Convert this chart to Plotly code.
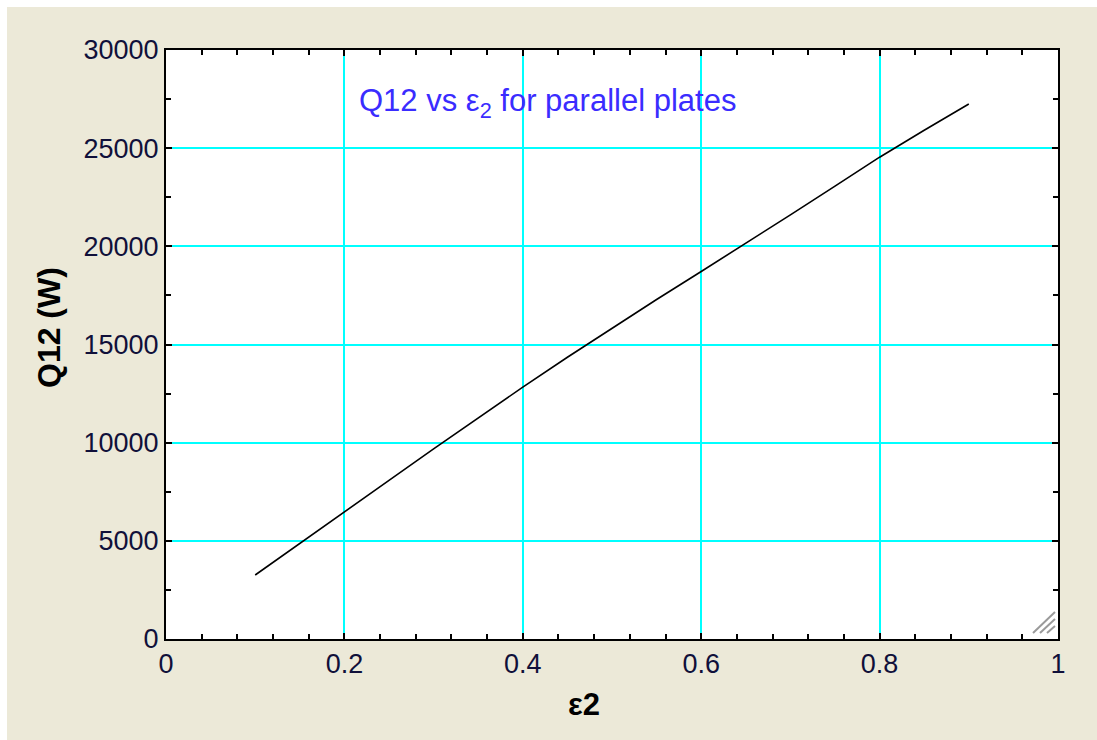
import plotly.graph_objects as go

# Net radiative exchange between two parallel plates as emissivity of plate 2 varies
eps2 = [0.10, 0.15, 0.20, 0.25, 0.30, 0.35, 0.40, 0.45, 0.50,
        0.55, 0.60, 0.65, 0.70, 0.75, 0.80, 0.85, 0.90]
q12 = [3260, 4880, 6470, 8080, 9680, 11270, 12830, 14350, 15840,
       17290, 18720, 20150, 21600, 23070, 24540, 25910, 27250]

x_ticks = [0, 0.2, 0.4, 0.6, 0.8, 1]
x_tick_text = ["0", "0.2", "0.4", "0.6", "0.8", "1"]
y_ticks = [0, 5000, 10000, 15000, 20000, 25000, 30000]
y_tick_text = ["0", "5000", "10000", "15000", "20000", "25000", "30000"]

W, H = 1097, 740
L, R, T, B = 166, 1058, 50, 639
BG = "#ECE9D8"
FONT = "Liberation Sans, Arial, sans-serif"


def px(x):
    return (x - L) / (R - L)


def py(y):
    return (B - y) / (B - T)


fig = go.Figure()
fig.add_trace(go.Scatter(x=eps2, y=q12, mode="lines",
                         line=dict(color="black", width=1.6),
                         showlegend=False, hoverinfo="x+y"))

tick_font = dict(family=FONT, size=27, color="#10103a")
axis_common = dict(
    showline=True, linecolor="black", linewidth=2, mirror="ticks",
    ticks="inside", ticklen=6, tickwidth=2, tickcolor="black",
    showgrid=True, gridcolor="#00FFFF", gridwidth=2,
    zeroline=False, tickfont=tick_font,
)

fig.update_xaxes(range=[0, 1], tickvals=x_ticks, ticktext=x_tick_text,
                 minor=dict(dtick=0.04, tick0=0, ticks="inside", ticklen=5,
                            tickwidth=2, tickcolor="black", showgrid=False),
                 **axis_common)
fig.update_yaxes(range=[0, 30000], tickvals=y_ticks, ticktext=y_tick_text,
                 minor=dict(dtick=2500, tick0=0, ticks="inside", ticklen=5,
                            tickwidth=2, tickcolor="black", showgrid=False),
                 **axis_common)

annotations = [
    dict(text="Q12 vs ε<sub>2</sub> for parallel plates", x=px(357), y=py(103),
         xref="paper", yref="paper", xanchor="left", yanchor="middle",
         showarrow=False,
         font=dict(family=FONT, size=31, color="#3a2cff")),
    dict(text="<b>ε2</b>", x=px(584), y=py(704), xref="paper", yref="paper",
         xanchor="center", yanchor="middle", showarrow=False,
         font=dict(family=FONT, size=31, color="black")),
    dict(text="<b>Q12 (W)</b>", x=px(49), y=py(328), xref="paper", yref="paper",
         xanchor="center", yanchor="middle", showarrow=False, textangle=-90,
         font=dict(family=FONT, size=32, color="black")),
]

shapes = [
    # thin white frame along the top and left edges of the window
    dict(type="rect", xref="paper", yref="paper", x0=px(0), x1=px(W), y0=py(7), y1=py(0),
         fillcolor="white", line=dict(width=0), layer="above"),
    dict(type="rect", xref="paper", yref="paper", x0=px(0), x1=px(7), y0=py(H), y1=py(0),
         fillcolor="white", line=dict(width=0), layer="above"),
]
# resize grip in the lower-right corner of the plot area
for (x0, y0, x1, y1) in [(1033, 633, 1055, 612), (1040, 633, 1055, 619), (1047, 633, 1055, 626)]:
    shapes.append(dict(type="line", xref="paper", yref="paper",
                       x0=px(x0), y0=py(y0), x1=px(x1), y1=py(y1),
                       line=dict(color="#9a9a9a", width=2), layer="above"))

fig.update_layout(
    width=W, height=H,
    margin=dict(l=L, r=W - R, t=T, b=H - B, pad=0),
    paper_bgcolor=BG, plot_bgcolor="white",
    annotations=annotations, shapes=shapes,
    showlegend=False,
)

fig.write_html("out.html")
